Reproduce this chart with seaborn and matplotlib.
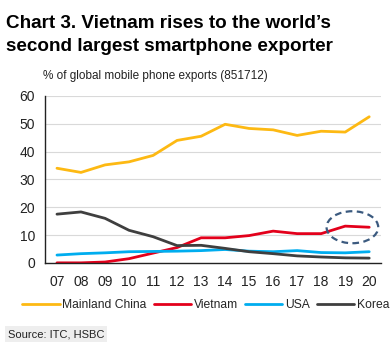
import numpy as np
import pandas as pd
import matplotlib
matplotlib.use('Agg')
import matplotlib.pyplot as plt
import seaborn as sns
from matplotlib.patches import Ellipse

years = ['07', '08', '09', '10', '11', '12', '13', '14', '15', '16', '17', '18', '19', '20']
china = [34.0, 32.5, 35.2, 36.3, 38.6, 44.0, 45.5, 49.8, 48.3, 47.8, 45.8, 47.3, 47.0, 52.5]
vietnam = [0.0, 0.0, 0.3, 1.5, 3.5, 5.5, 9.0, 9.0, 9.8, 11.4, 10.5, 10.5, 13.2, 12.8]
usa = [2.8, 3.3, 3.6, 4.0, 4.1, 4.2, 4.4, 4.8, 4.2, 4.0, 4.4, 3.7, 3.6, 4.0]
korea = [17.5, 18.3, 16.0, 11.7, 9.4, 6.2, 6.3, 5.2, 4.0, 3.3, 2.5, 2.1, 1.8, 1.7]

names = ['Mainland China', 'Vietnam', 'USA', 'Korea']
colors = ['#FDB913', '#E3001B', '#00ADEF', '#3F3F3F']

df = pd.DataFrame({'year': years, 'Mainland China': china, 'Vietnam': vietnam,
                   'USA': usa, 'Korea': korea})
df['x'] = np.arange(len(years))
long = df.melt(id_vars=['year', 'x'], value_vars=names, var_name='series', value_name='value')

sns.set_style('white')
plt.rcParams['font.family'] = ['Liberation Sans', 'DejaVu Sans']

fig = plt.figure(figsize=(3.91, 3.5), dpi=100)
ax = fig.add_axes([0.115, 0.249, 0.86, 0.477])

sns.lineplot(data=long, x='x', y='value', hue='series', hue_order=names,
             palette=colors, linewidth=2, ax=ax, legend=False)

ax.set_xlim(-0.5, len(years) - 0.5)
ax.set_ylim(0, 60)
ax.set_yticks(range(0, 61, 10))
ax.set_yticklabels([str(v) for v in range(0, 61, 10)], fontsize=10, color='#222222')
ax.set_xticks(range(len(years)))
ax.set_xticklabels(years, fontsize=10, color='#222222')
ax.tick_params(axis='x', length=0, pad=9)
ax.set_xticks(np.arange(-0.5, len(years), 1), minor=True)
ax.tick_params(axis='x', which='minor', length=4, color='#222222', width=1)
ax.tick_params(axis='y', length=4, color='#222222', width=1, pad=3)
ax.set_xlabel('')
ax.set_ylabel('')
ax.yaxis.grid(True, color='#d9d9d9', linewidth=0.8)
ax.set_axisbelow(True)
for s in ['top', 'right']:
    ax.spines[s].set_visible(False)
for s in ['left', 'bottom']:
    ax.spines[s].set_color('#222222')
    ax.spines[s].set_linewidth(1)

# highlight ring around Vietnam's last two points
ax.add_patch(Ellipse((12.3, 12.8), 2.15, 11.5, fill=False, edgecolor='#3B5A7F',
                     linestyle=(0, (3, 2)), linewidth=1.6, clip_on=False, zorder=5))

fig.text(0.016, 0.92, 'Chart 3. Vietnam rises to the world\u2019s', fontsize=13.6,
         fontweight='bold', color='#000000')
fig.text(0.016, 0.855, 'second largest smartphone exporter', fontsize=13.6,
         fontweight='bold', color='#000000')
fig.text(0.11, 0.774, '% of global mobile phone exports (851712)', fontsize=8.5, color='#222222')

handles = [plt.Line2D([0], [0], color=c, linewidth=2) for c in colors]
fig.legend(handles, names, loc='center', bbox_to_anchor=(0.526, 0.129), ncol=4,
           frameon=False, fontsize=8.7, handlelength=3.1, handletextpad=0.2,
           columnspacing=0.6, borderpad=0, borderaxespad=0)

fig.text(0.02, 0.037, 'Source: ITC, HSBC', fontsize=8, color='#222222',
         bbox=dict(facecolor='#eeeeee', edgecolor='none', pad=2))

fig.savefig('out.png', dpi=100)
